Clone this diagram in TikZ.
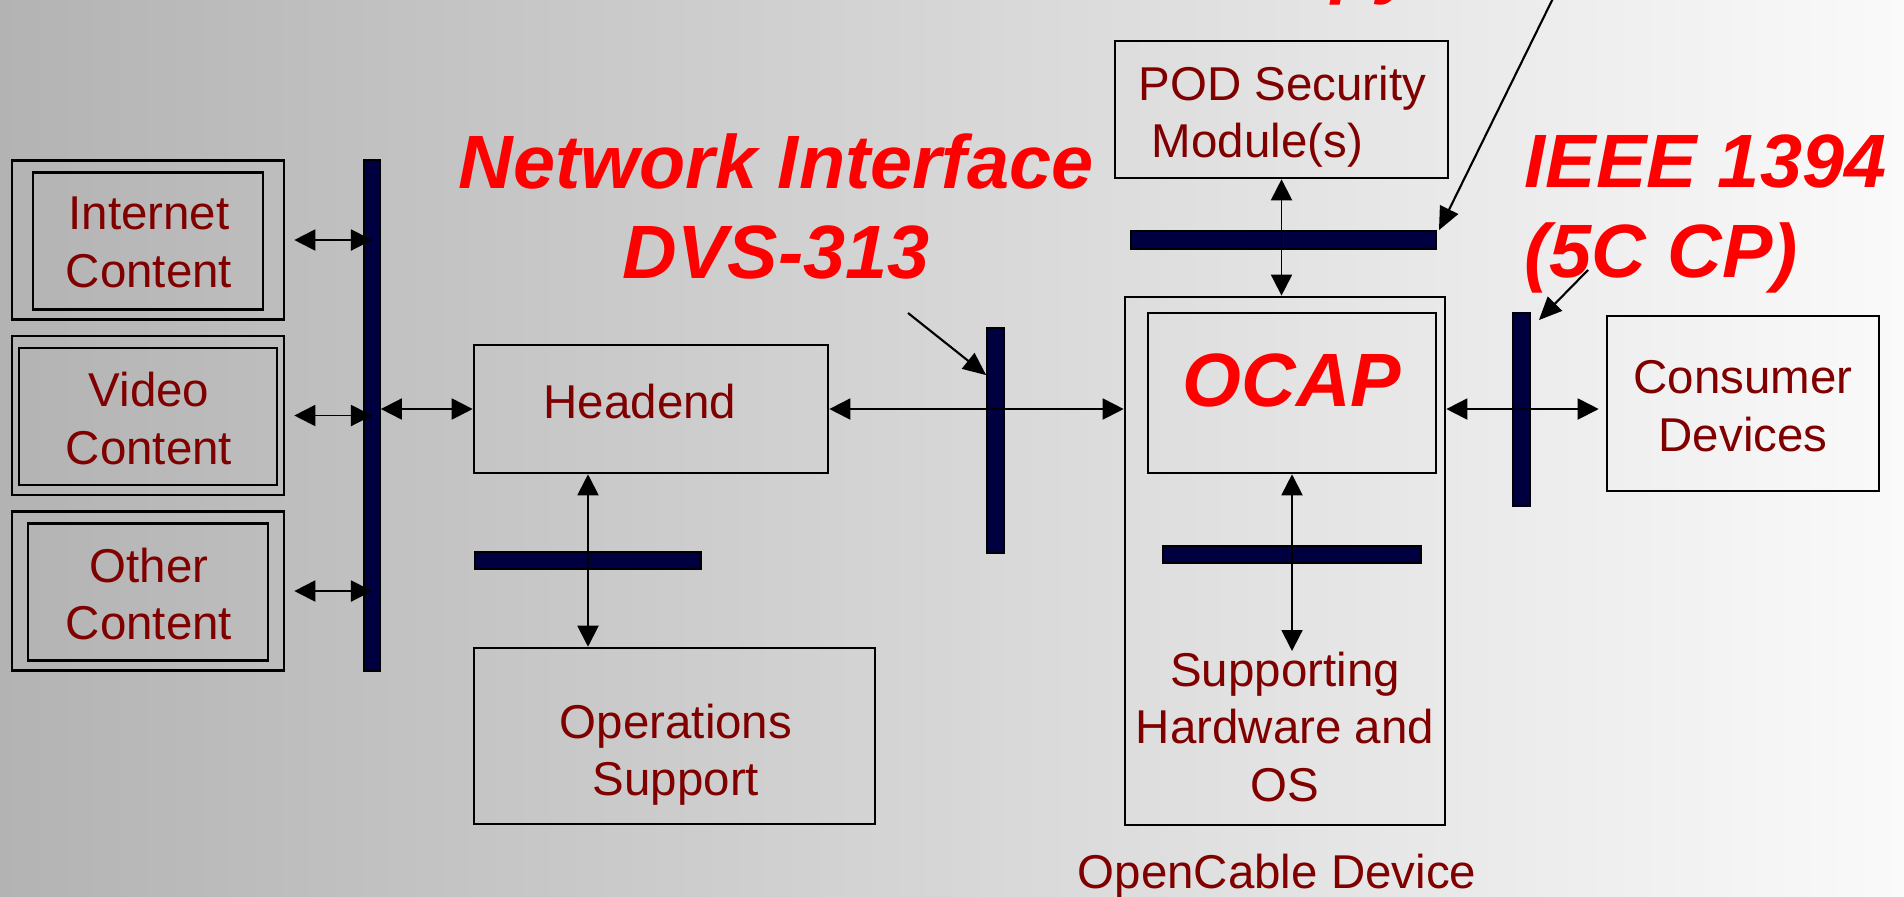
\documentclass[tikz,border=0pt]{standalone}
\usepackage{fontspec}
\setmainfont{Liberation Sans}
\usepackage{tikz}
\usetikzlibrary{positioning,arrows.meta}
\definecolor{OCmaroon}{HTML}{800000}
\definecolor{OCred}{HTML}{FF0000}
\definecolor{OCnavy}{HTML}{000040}
\definecolor{OCbgleft}{HTML}{B3B3B3}
\definecolor{OCbgright}{HTML}{FAFAFA}

\begin{document}
\begin{tikzpicture}[x=0.01cm, y=-0.01cm,
  box/.style={draw=black, line width=0.7pt, inner sep=0pt},
  busbar/.style={draw=black, fill=OCnavy, line width=0.5pt, inner sep=0pt},
  lbl/.style={text=OCmaroon, align=center, inner sep=0pt, font=\fontsize{13.5}{16.4}\selectfont},
  hot/.style={text=OCred, inner sep=0pt, font=\fontsize{21.5}{25.5}\selectfont\bfseries\itshape},
  link/.style={line width=0.55pt, {Triangle[length=2.1mm,width=2.1mm]}-{Triangle[length=2.1mm,width=2.1mm]}},
  pointer/.style={line width=0.6pt, -{Triangle[length=2.3mm,width=2.0mm]}}]
\useasboundingbox (0,0) rectangle (1904,896);
\clip (0,0) rectangle (1904,896);
\shade[left color=OCbgleft, right color=OCbgright] (0,0) rectangle (1904,896);

% content sources
\node[busbar, minimum width=0.16cm, minimum height=5.11cm] (busl) at (372,415.5) {};
\foreach \n/\y/\w/\lab in {inet/240/2.30/Internet,vid/415.5/2.58/Video,oth/591/2.40/Other}{
  \node[box, minimum width=2.72cm, minimum height=1.59cm] (\n-out) at (148,\y) {};
  \node[box, minimum width=\w cm, minimum height=1.37cm] (\n-in) at (148,\y+1) {};
  \node[lbl, anchor=north] (\n-txt) at (149,\y-44) {\lab\\Content};
  \draw[link, shorten <=0.09cm] (\n-out.east) -- (\n-out.east -| busl.center);
}

% headend and operations
\node[box, minimum width=3.54cm, minimum height=1.28cm] (headend) at (651,409) {};
\node[lbl, anchor=north] (headtxt) at (640,383) {Headend};
\node[busbar, minimum width=2.26cm, minimum height=0.17cm] (opsbus) at (588,560.5) {};
\node[box, minimum width=4.01cm, minimum height=1.76cm] (ops) at (674.5,736) {};
\node[lbl, anchor=north] (opstxt) at (676,703) {Operations\\Support};
\draw[link] (busl.east |- headend.west) -- (headend.west);
\draw[link] (opsbus |- headend.south) -- (opsbus |- ops.north);

% network interface
\node[busbar, minimum width=0.17cm, minimum height=2.25cm] (netbus) at (995.5,440.5) {};
\node[hot, align=center, anchor=north] (netlbl) at (776,133) {Network Interface\\DVS-313};
\coordinate (nettail) at (908,313);
\draw[pointer] (nettail) -- ([yshift=-0.48cm]netbus.north west);

% OpenCable device
\node[box, minimum width=3.20cm, minimum height=5.28cm] (ocdev) at (1285,561) {};
\node[box, minimum width=2.88cm, minimum height=1.60cm] (ocap) at (1292,393) {};
\node[hot, anchor=north] (ocaptxt) at (1292,353) {OCAP};
\node[busbar, minimum width=2.58cm, minimum height=0.17cm] (ocapbus) at (1292,554.5) {};
\node[lbl, anchor=north] (supptxt) at (1285,651) {Supporting\\Hardware and\\OS};
\node[lbl, anchor=north] (devlbl) at (1277,853) {OpenCable Device};
\draw[link] (headend.east) -- (headend.east -| ocdev.west);
\draw[link] (ocap.south) -- (ocap.south |- supptxt.north);

% POD
\node[box, minimum width=3.33cm, minimum height=1.37cm] (pod) at (1281.5,109.5) {};
\node[lbl, align=left, anchor=north west] (podtxt) at (1138,65) {POD Security\\\hspace*{0.278em}Module(s)};
\node[busbar, minimum width=3.05cm, minimum height=0.18cm] (podbus) at (1283.5,240) {};
\draw[link] (pod.south) -- (pod.south |- ocdev.north);
\node[hot, anchor=base west] (copylbl) at (1230,-11) {Copy Protection};
\coordinate (podtail) at (1562,-20);
\draw[pointer] (podtail) -- ([xshift=0.02cm]podbus.north east);

% IEEE 1394 and consumer devices
\node[busbar, minimum width=0.17cm, minimum height=1.93cm] (ieeebus) at (1521.5,409.5) {};
\node[hot, align=left, anchor=north west] (ieeelbl) at (1524,134) {IEEE 1394\\(5C CP)};
\coordinate (ieeetail) at (1588,270);
\draw[pointer] (ieeetail) -- ([shift={(0.08cm,-0.08cm)}]ieeebus.north east);
\node[box, minimum width=2.72cm, minimum height=1.75cm] (consumer) at (1743,403.5) {};
\node[lbl, anchor=north] (constxt) at (1743,360) {Consumer\\Devices};
\draw[link, shorten >=0.07cm] (ocdev.east |- headend.east) -- (consumer.west |- headend.east);
\end{tikzpicture}
\end{document}
